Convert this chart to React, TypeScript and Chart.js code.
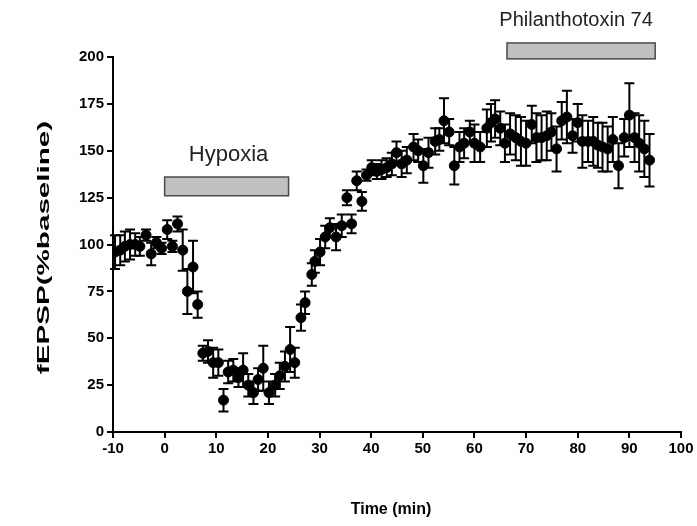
import React, { useEffect, useRef } from "react";
import { Chart, registerables } from "chart.js";

Chart.register(...registerables);

// Time (min) of each sample
const times: number[] = [
  -9.6, -8.6, -7.7, -6.7, -5.7, -4.8, -3.6, -2.6, -1.6, -0.6,
  0.5, 1.5, 2.5, 3.5, 4.4, 5.5, 6.4, 7.4, 8.4, 9.4,
  10.4, 11.4, 12.3, 13.3, 14.3, 15.2, 16.2, 17.2, 18.1, 19.1,
  20.2, 21.4, 22.3, 23.3, 24.3, 25.2, 26.4, 27.2, 28.5, 29.1,
  30.1, 31.1, 32.0, 33.2, 34.3, 35.3, 36.2, 37.2, 38.2, 39.1,
  40.1, 41.1, 42.0, 43.0, 44.0, 44.9, 45.9, 46.9, 48.2, 49.1,
  50.1, 51.1, 52.4, 53.2, 54.1, 55.1, 56.1, 57.1, 58.0, 59.1,
  60.0, 61.1, 62.4, 63.2, 64.0, 65.0, 65.9, 66.9, 68.0, 69.0,
  70.0, 71.1, 72.0, 73.0, 74.0, 74.9, 75.9, 76.9, 77.9, 79.0,
  80.0, 80.9, 82.0, 83.0, 83.9, 84.8, 85.8, 86.8, 87.9, 89.0,
  90.0, 91.0, 91.9, 92.9, 93.9,
];

// fEPSP (% baseline) mean
const fepsp: number[] = [
  96, 97, 99, 100, 100, 99, 105, 95, 101, 98,
  108, 99, 111, 97, 75, 88, 68, 42, 43, 37,
  37, 17, 32, 33, 29, 33, 25, 21, 28, 34,
  21, 25, 30, 35, 44, 37, 61, 69, 84, 91,
  96, 104, 109, 104, 110, 125, 111, 134, 123, 137,
  141, 139, 140, 141, 143, 149, 143, 145, 152, 150,
  142, 149, 155, 156, 166, 160, 142, 152, 154, 160,
  154, 152, 162, 165, 167, 162, 154, 159, 157, 155,
  154, 164, 157, 157, 158, 160, 151, 166, 168, 158,
  165, 155, 155, 155, 153, 152, 151, 156, 142, 157,
  169, 157, 154, 151, 145,
];

// SEM
const sem: number[] = [
  9, 8, 8, 8, 6, 5, 3, 6, 3, 3,
  5, 3, 4, 11, 12, 14, 7, 4, 6, 8,
  7, 6, 6, 6, 5, 9, 6, 6, 6, 12,
  6, 6, 7, 8, 12, 8, 7, 6, 6, 6,
  7, 6, 5, 7, 6, 4, 5, 5, 5, 3,
  4, 4, 5, 5, 6, 6, 7, 7, 7, 6,
  9, 8, 7, 6, 12, 7, 10, 8, 8, 6,
  10, 8, 10, 10, 10, 9, 10, 11, 12, 13,
  12, 10, 13, 12, 13, 10, 12, 10, 14, 9,
  10, 14, 11, 13, 12, 13, 12, 12, 12, 10,
  17, 13, 15, 15, 14,
];

const xTicks: number[] = [-10, 0, 10, 20, 30, 40, 50, 60, 70, 80, 90, 100];
const yTicks: number[] = [0, 25, 50, 75, 100, 125, 150, 175, 200];

const xTitle = "Time (min)";
const yTitle = "fEPSP(%baseline)";

// Treatment periods (minutes) and their labels
const periodLabels: string[] = ["Hypoxia", "Philanthotoxin 74"];
const periodStart: number[] = [0, 66.3];
const periodEnd: number[] = [24, 95];

const FONT = "'Liberation Sans', Arial, Helvetica, sans-serif";

const errorBarPlugin = {
  id: "errorBars",
  beforeDatasetsDraw(chart: any) {
    const { ctx, scales } = chart;
    const x = scales.x;
    const y = scales.y;
    ctx.save();
    ctx.strokeStyle = "#000";
    ctx.lineWidth = 2;
    times.forEach((t, i) => {
      const px = x.getPixelForValue(t);
      const top = y.getPixelForValue(fepsp[i] + sem[i]);
      const bot = y.getPixelForValue(fepsp[i] - sem[i]);
      ctx.beginPath();
      ctx.moveTo(px, top);
      ctx.lineTo(px, bot);
      ctx.moveTo(px - 5, top);
      ctx.lineTo(px + 5, top);
      ctx.moveTo(px - 5, bot);
      ctx.lineTo(px + 5, bot);
      ctx.stroke();
    });
    ctx.restore();
  },
};

const periodPlugin = {
  id: "periods",
  afterDraw(chart: any) {
    const { ctx, scales } = chart;
    const x = scales.x;
    const y = scales.y;
    const barLow = [126, 199];
    const barHigh = [136, 207.5];
    const labelY = [147.7, 219.5];
    const labelSize = [22, 20];
    const labelShift = [2, -5];
    ctx.save();
    periodLabels.forEach((label, i) => {
      const x0 = x.getPixelForValue(periodStart[i]);
      const x1 = x.getPixelForValue(periodEnd[i]);
      const y0 = y.getPixelForValue(barHigh[i]);
      const y1 = y.getPixelForValue(barLow[i]);
      ctx.fillStyle = "#c0c0c0";
      ctx.fillRect(x0, y0, x1 - x0, y1 - y0);
      ctx.strokeStyle = "#4a4a4a";
      ctx.lineWidth = 1.5;
      ctx.strokeRect(x0, y0, x1 - x0, y1 - y0);
      ctx.fillStyle = "#222";
      ctx.font = `${labelSize[i]}px ${FONT}`;
      ctx.textAlign = "center";
      ctx.textBaseline = "middle";
      ctx.fillText(label, (x0 + x1) / 2 + labelShift[i], y.getPixelForValue(labelY[i]));
    });

    // axis titles
    const area = chart.chartArea;
    ctx.fillStyle = "#000";
    ctx.font = `bold 16px ${FONT}`;
    ctx.textAlign = "center";
    ctx.textBaseline = "middle";
    ctx.fillText(xTitle, (area.left + area.right) / 2 - 6, 510);

    ctx.save();
    ctx.translate(45, (area.top + area.bottom) / 2 + 3);
    ctx.rotate(-Math.PI / 2);
    ctx.scale(1.85, 1);
    ctx.fillText(yTitle, 0, 0);
    ctx.restore();

    ctx.restore();
  },
};

export default function App() {
  const ref = useRef<HTMLCanvasElement | null>(null);

  useEffect(() => {
    if (!ref.current) return;
    const chart = new Chart(ref.current, {
      type: "scatter",
      data: {
        datasets: [
          {
            label: "fEPSP",
            data: times.map((t, i) => ({ x: t, y: fepsp[i] })),
            backgroundColor: "#000",
            borderColor: "#000",
            pointRadius: 5,
            pointHoverRadius: 5,
            showLine: false,
          },
        ],
      },
      options: {
        responsive: false,
        animation: false,
        events: [],
        layout: { padding: { top: 57, right: 16, bottom: 0, left: 0 } },
        plugins: {
          legend: { display: false },
          tooltip: { enabled: false },
        },
        scales: {
          x: {
            type: "linear",
            min: -10,
            max: 100,
            afterFit: (s: any) => {
              s.height = 94;
            },
            afterBuildTicks: (s: any) => {
              s.ticks = xTicks.map((v) => ({ value: v }));
            },
            border: { display: true, color: "#000", width: 2 },
            grid: {
              display: true,
              drawOnChartArea: false,
              drawTicks: true,
              tickLength: 6,
              color: "#000",
              lineWidth: 2,
            },
            ticks: {
              color: "#000",
              padding: 2,
              maxRotation: 0,
              autoSkip: false,
              font: { family: FONT, size: 15, weight: "bold" },
            },
            title: { display: false },
          },
          y: {
            type: "linear",
            min: 0,
            max: 200,
            afterFit: (s: any) => {
              s.width = 113;
            },
            afterBuildTicks: (s: any) => {
              s.ticks = yTicks.map((v) => ({ value: v }));
            },
            border: { display: true, color: "#000", width: 2 },
            grid: {
              display: true,
              drawOnChartArea: false,
              drawTicks: true,
              tickLength: 6,
              color: "#000",
              lineWidth: 2,
            },
            ticks: {
              color: "#000",
              padding: 3,
              autoSkip: false,
              font: { family: FONT, size: 15, weight: "bold" },
            },
            title: { display: false },
          },
        },
      },
      plugins: [errorBarPlugin, periodPlugin],
    });
    return () => chart.destroy();
  }, []);

  return (
    <div style={{ position: "absolute", left: 0, top: 0, width: 697, height: 526, background: "#fff" }}>
      <canvas ref={ref} width={697} height={526} style={{ display: "block" }} />
    </div>
  );
}
